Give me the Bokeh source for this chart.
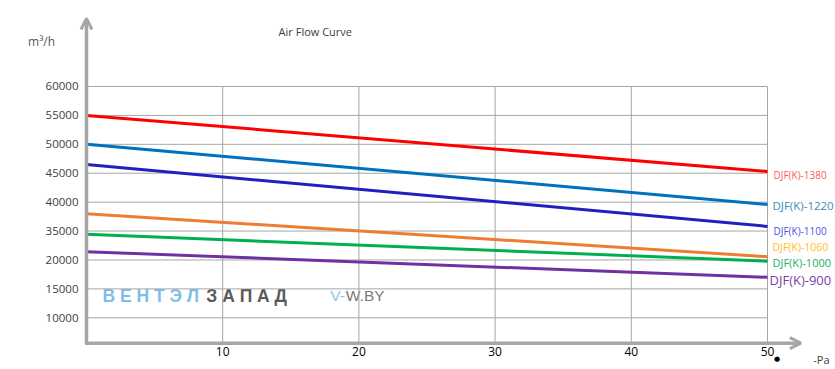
import numpy as np
from bokeh.plotting import figure
from bokeh.models import FixedTicker, Range1d, Arrow, OpenHead, Label, ColumnDataSource
from bokeh.core.properties import value
from bokeh.embed import file_html
from bokeh.resources import INLINE

# ---------------- data ----------------
title_text = "Air Flow Curve"
y_unit = "m³/h"
x_unit = "-Pa"

# y tick labels, bottom to top, exactly as printed (the axis is not linear)
y_tick_values = [10000, 15000, 20000, 35000, 40000, 45000, 50000, 55000, 60000]
x_tick_values = [10, 20, 30, 40, 50]

pressure = [0, 50]  # Pa
series_names = ["DJF(K)-1380", "DJF(K)-1220", "DJF(K)-1100",
                "DJF(K)-1060", "DJF(K)-1000", "DJF(K)-900"]
flow_1380 = [55000, 45300]
flow_1220 = [50000, 39600]
flow_1100 = [46500, 35800]
flow_1060 = [38000, 21700]
flow_1000 = [33300, 19800]
flow_900 = [24300, 17000]
flows = [flow_1380, flow_1220, flow_1100, flow_1060, flow_1000, flow_900]

# ---------------- styles ----------------
line_colors = ["#FF0000", "#0070C0", "#2020C0", "#ED7D31", "#00B050", "#7030A0"]
label_colors = ["#FF5A5A", "#3E8BB8", "#5050E8", "#FFC020", "#20B060", "#7A3FA8"]
label_sizes = ["10px", "11.5px", "10px", "10.5px", "11px", "13px"]
label_dx = [6, 5, 6, 5, 5, 2]
label_dy = [4, 1, 5, -10, 1, 3]

GRID = "#A6A6A6"
AXIS = "#A6A6A6"
FONT = "Open Sans"

# the chart's y axis is an ordinal ladder of printed values
tick_pos = list(range(len(y_tick_values)))


def ypos(v):
    return np.interp(v, y_tick_values, tick_pos)


p = figure(width=835, height=369,
           x_range=Range1d(-6.314, 54.993), y_range=Range1d(-1.788, 10.974),
           output_backend="svg", toolbar_location=None, title=None,
           min_border_left=0, min_border_right=0, min_border_top=0,
           min_border_bottom=0)
p.outline_line_color = None
p.grid.visible = False
p.background_fill_color = "white"
p.border_fill_color = "white"

axis_y_level = -0.8785   # where the horizontal axis arrow sits
top_grid = tick_pos[-1]

# watermark (under the grid)
p.text(x=[1.17], y=[0.76], text=["В Е Н Т Э Л"], text_font=value("Liberation Sans"),
       text_font_style="bold", text_font_size="17.5px", text_color="#7DBFE8",
       text_baseline="middle", text_align="left")
p.text(x=[8.8], y=[0.76], text=["З А П А Д"], text_font=value("Liberation Sans"),
       text_font_style="bold", text_font_size="17.5px", text_color="#5A5A5A",
       text_baseline="middle", text_align="left")
p.text(x=[17.9], y=[0.76], text=["V-"], text_font=value("Liberation Sans"),
       text_font_size="15.5px", text_color="#8EC8EC",
       text_baseline="middle", text_align="left")
p.text(x=[19.04], y=[0.76], text=["W.BY"], text_font=value("Liberation Sans"),
       text_font_size="15.5px", text_color="#7A7A7A",
       text_baseline="middle", text_align="left")

# grid lines
p.segment(x0=[0] * len(tick_pos), x1=[pressure[-1]] * len(tick_pos),
          y0=tick_pos, y1=tick_pos, line_color=GRID, line_width=1)
p.segment(x0=x_tick_values, x1=x_tick_values,
          y0=[axis_y_level] * len(x_tick_values), y1=[top_grid] * len(x_tick_values),
          line_color=GRID, line_width=1)

# series
for f, c in zip(flows, line_colors):
    p.line(x=pressure, y=ypos(f), line_color=c, line_width=3)

src = ColumnDataSource(dict(
    x=[pressure[-1]] * len(flows),
    y=[ypos(f[-1]) for f in flows],
    text=series_names, color=label_colors, size=label_sizes,
    dx=label_dx, dy=label_dy))
p.text(x="x", y="y", text="text", source=src, text_color="color",
       text_font_size="size", x_offset="dx", y_offset="dy",
       text_font=value(FONT), text_baseline="middle", text_align="left")

# axis arrows
p.add_layout(Arrow(end=OpenHead(size=11, line_color=AXIS, line_width=3),
                   x_start=0, y_start=-0.906, x_end=0, y_end=10.35,
                   line_color=AXIS, line_width=3.5))
p.add_layout(Arrow(end=OpenHead(size=11, line_color=AXIS, line_width=3),
                   x_start=-0.1, y_start=axis_y_level, x_end=52.45, y_end=axis_y_level,
                   line_color=AXIS, line_width=3.5))

# axes (labels only), placed inside the frame at the arrows
p.xaxis.ticker = FixedTicker(ticks=x_tick_values)
p.yaxis.ticker = FixedTicker(ticks=tick_pos)
p.yaxis.major_label_overrides = {i: str(v) for i, v in zip(tick_pos, y_tick_values)}
p.xaxis.fixed_location = axis_y_level
p.yaxis.fixed_location = 0
for ax in (p.xaxis, p.yaxis):
    ax.axis_line_color = None
    ax.major_tick_line_color = None
    ax.minor_tick_line_color = None
    ax.major_tick_in = 0
    ax.major_tick_out = 0
    ax.major_label_text_font = FONT
p.xaxis.major_label_standoff = 4
p.xaxis.major_label_text_font_size = "12px"
p.xaxis.major_label_text_color = "#000000"
p.yaxis.major_label_standoff = 8
p.yaxis.major_label_text_font_size = "11.5px"
p.yaxis.major_label_text_color = "#404040"

# texts
p.add_layout(Label(x=16.8, y=9.9, text=title_text, text_font=FONT, text_font_size="11px",
                   text_color="#404040", text_align="center", text_baseline="middle"))
p.add_layout(Label(x=-3.3, y=9.556, text=y_unit, text_font=FONT, text_font_size="12px",
                   text_color="#595959", text_align="center", text_baseline="middle"))
p.add_layout(Label(x=53.96, y=-1.44, text=x_unit, text_font=FONT, text_font_size="11px",
                   text_color="#404040", text_align="center", text_baseline="middle"))
p.add_layout(Label(x=50.71, y=-1.44, text="●", text_font="DejaVu Sans", text_font_size="7px",
                   text_color="#000000", text_align="center", text_baseline="middle"))

open("out.html", "w").write(file_html(p, INLINE))
